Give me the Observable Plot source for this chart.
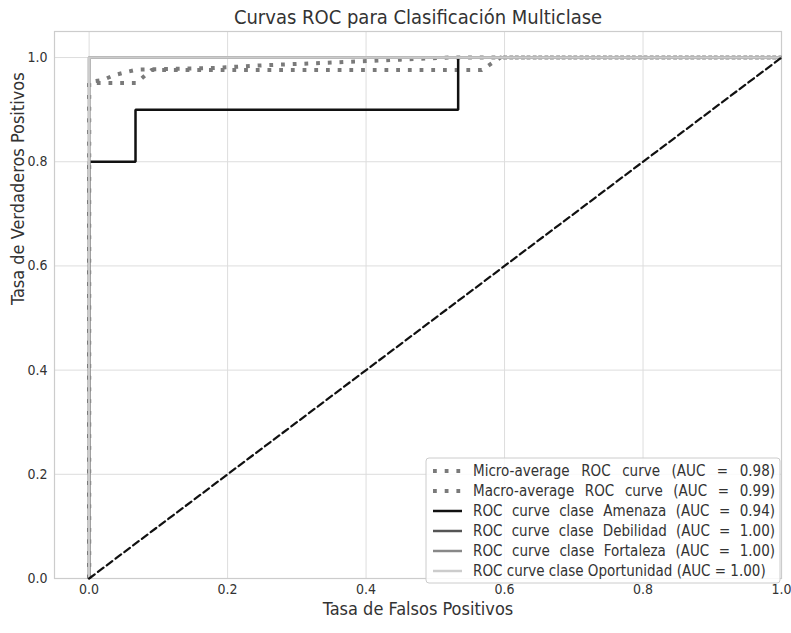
<!DOCTYPE html>
<html>
<head>
<meta charset="utf-8">
<script src="https://cdn.jsdelivr.net/npm/d3@7"></script>
<script src="https://cdn.jsdelivr.net/npm/@observablehq/plot@0.6"></script>
<style>
  html, body { margin: 0; padding: 0; background: #fff; }
</style>
</head>
<body>
<div id="chart"></div>
<script>
const titleText = "Curvas ROC para Clasificación Multiclase";
const xLabel = "Tasa de Falsos Positivos";
const yLabel = "Tasa de Verdaderos Positivos";
const xTicks = [0, 0.2, 0.4, 0.6, 0.8, 1.0];
const yTicks = [0, 0.2, 0.4, 0.6, 0.8, 1.0];

const fprMicro = [0, 0, 0.02, 0.036, 0.053, 0.07, 0.18, 0.25, 0.36, 0.45, 0.52, 1];
const tprMicro = [0, 0.953, 0.957, 0.966, 0.972, 0.977, 0.980, 0.985, 0.991, 0.996, 1.0, 1];

const fprMacro = [0, 0, 0.068, 0.09, 0.567, 0.594, 1];
const tprMacro = [0, 0.951, 0.951, 0.976, 0.976, 1.0, 1];

const fprAmenaza = [0, 0, 0.067, 0.067, 0.533, 0.533, 1];
const tprAmenaza = [0, 0.8, 0.8, 0.9, 0.9, 1.0, 1];

const fprDebilidad = [0, 0, 1];
const tprDebilidad = [0, 1, 1];
const fprFortaleza = [0, 0, 1];
const tprFortaleza = [0, 1, 1];
const fprOportunidad = [0, 0, 1];
const tprOportunidad = [0, 1, 1];

const fprChance = [0, 1];
const tprChance = [0, 1];

const legendLabels = [
  "Micro-average ROC curve (AUC = 0.98)",
  "Macro-average ROC curve (AUC = 0.99)",
  "ROC curve clase Amenaza (AUC = 0.94)",
  "ROC curve clase Debilidad (AUC = 1.00)",
  "ROC curve clase Fortaleza (AUC = 1.00)",
  "ROC curve clase Oportunidad (AUC = 1.00)"
];

// font detection: prefer DejaVu Sans Condensed if installed
const ctx = document.createElement("canvas").getContext("2d");
ctx.font = "40px 'DejaVu Sans Condensed', monospace";
const wA = ctx.measureText("Curvas ROC para").width;
ctx.font = "40px monospace";
const wB = ctx.measureText("Curvas ROC para").width;
const condensed = Math.abs(wA - wB) > 0.5;
const FONT = condensed ? "'DejaVu Sans Condensed', 'DejaVu Sans', sans-serif" : "'DejaVu Sans', sans-serif";
const k = condensed ? 1 : 0.9;

const toRows = (xs, ys) => xs.map((x, i) => ({x, y: ys[i]}));

const series = [
  {rows: toRows(fprMicro, tprMicro), stroke: "#7a7a7a", width: 4, dash: "3.8,7.9"},
  {rows: toRows(fprMacro, tprMacro), stroke: "#7a7a7a", width: 4, dash: "3.8,7.9"},
  {rows: toRows(fprAmenaza, tprAmenaza), stroke: "#111111", width: 2.5, dash: null},
  {rows: toRows(fprDebilidad, tprDebilidad), stroke: "#555555", width: 2.5, dash: null},
  {rows: toRows(fprFortaleza, tprFortaleza), stroke: "#888888", width: 2.5, dash: null},
  {rows: toRows(fprOportunidad, tprOportunidad), stroke: "#cccccc", width: 2.5, dash: null}
];

const fmt = d => d.toFixed(1);

const chart = Plot.plot({
  width: 791,
  height: 633,
  marginLeft: 54,
  marginRight: 10,
  marginTop: 31,
  marginBottom: 55,
  style: {fontFamily: FONT, fontSize: `${14 * k}px`, color: "#333", background: "white"},
  x: {domain: [-0.05, 1.0]},
  y: {domain: [0, 1.05]},
  marks: [
    Plot.gridX(xTicks, {stroke: "#dddddd", strokeOpacity: 1, strokeWidth: 1}),
    Plot.gridY(yTicks, {stroke: "#dddddd", strokeOpacity: 1, strokeWidth: 1}),
    Plot.frame({stroke: "#cccccc", strokeWidth: 1.2}),
    ...series.map(s => Plot.line(s.rows, {
      x: "x", y: "y", stroke: s.stroke, strokeWidth: s.width,
      strokeDasharray: s.dash, strokeLinecap: "butt", strokeLinejoin: "miter"
    })),
    Plot.line(toRows(fprChance, tprChance), {x: "x", y: "y", stroke: "#111", strokeWidth: 2.2, strokeDasharray: "7,4"}),
    Plot.axisX(xTicks, {tickSize: 0, tickPadding: 6, tickFormat: fmt, label: null, fontSize: 14 * k}),
    Plot.axisY(yTicks, {tickSize: 0, tickPadding: 7, tickFormat: fmt, label: null, fontSize: 14 * k}),
    Plot.text([titleText], {frameAnchor: "top", lineAnchor: "middle", dy: -14, fontSize: 20 * k, fill: "#333"}),
    Plot.text([xLabel], {frameAnchor: "bottom", lineAnchor: "middle", dy: 31, fontSize: 18 * k, fill: "#333"}),
    Plot.text([yLabel], {frameAnchor: "left", dx: -36, rotate: -90, fontSize: 18 * k, fill: "#333"})
  ]
});

document.getElementById("chart").appendChild(chart);

// Legend (lower right, inside the frame)
const svg = d3.select(chart);
const lg = svg.append("g")
  .attr("font-family", FONT)
  .attr("font-size", 15 * k)
  .attr("text-anchor", "start");
const lx = 426, ly = 458, lw = 354, lh = 125;
lg.append("rect").attr("x", lx).attr("y", ly).attr("width", lw).attr("height", lh)
  .attr("rx", 3).attr("fill", "white").attr("fill-opacity", 0.85)
  .attr("stroke", "#cccccc").attr("stroke-width", 1);
const target = 302;
legendLabels.forEach((lab, i) => {
  const s = series[i];
  const yy = ly + 13 + i * 20;
  lg.append("line").attr("x1", lx + 7).attr("x2", lx + 36).attr("y1", yy).attr("y2", yy)
    .attr("stroke", s.stroke).attr("stroke-width", s.width)
    .attr("stroke-dasharray", s.dash);
  const t = lg.append("text").attr("x", lx + 47).attr("y", yy).attr("dy", "0.35em")
    .attr("text-anchor", "start").attr("fill", "#333").text(lab);
  if (i < 5) {
    const natural = t.node().getComputedTextLength();
    const nSpaces = lab.split(" ").length - 1;
    const ws = Math.max(0, (target - natural) / nSpaces);
    t.style("word-spacing", ws + "px");
  }
});
</script>
</body>
</html>
